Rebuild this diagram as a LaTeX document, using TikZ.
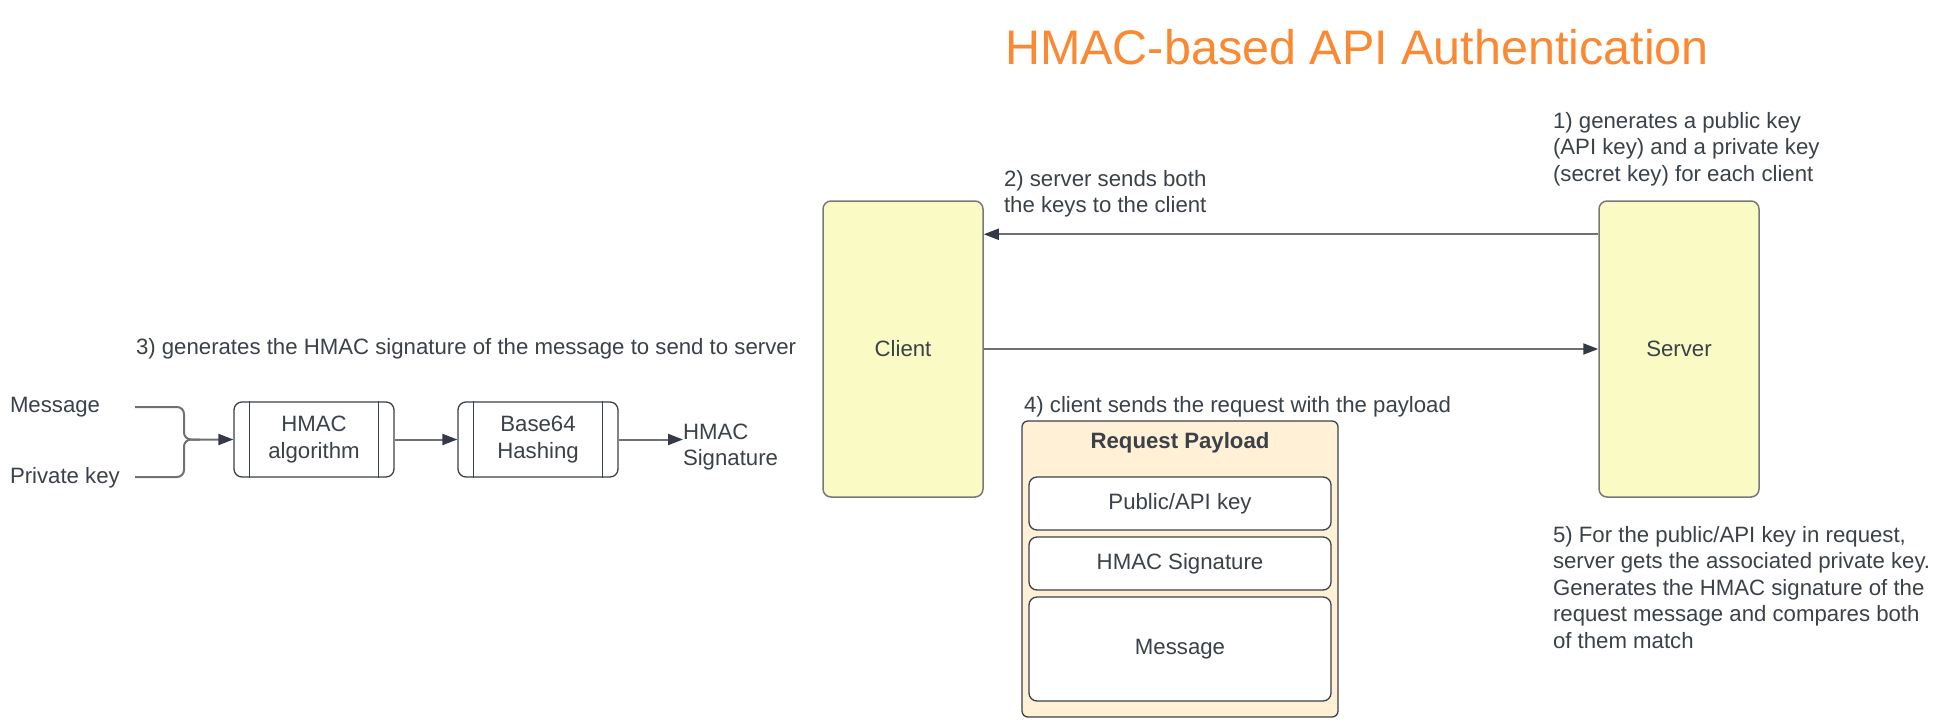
\documentclass[tikz,border=0pt]{standalone}
\usepackage{fontspec}
\setmainfont{Liberation Sans}
\usetikzlibrary{arrows.meta}
\definecolor{textc}{RGB}{58,65,74}
\definecolor{linec}{RGB}{112,112,112}
\definecolor{tipc}{RGB}{51,58,69}
\definecolor{bordc}{RGB}{120,120,120}
\definecolor{yellowc}{RGB}{250,250,196}
\definecolor{payc}{RGB}{255,240,214}
\definecolor{titlec}{RGB}{250,137,52}
\begin{document}
\begin{tikzpicture}[x=1pt,y=-1pt,
  txt/.style={inner sep=0pt, outer sep=0pt, text=textc, font=\fontsize{22.2}{26.5}\selectfont, align=left, anchor=base west},
  procbox/.style={draw=textc, line width=1.3pt, rounded corners=8pt, minimum width=160pt, minimum height=75pt, inner sep=0pt, text=textc, font=\fontsize{22.2}{26.5}\selectfont, align=center},
  actor/.style={draw=bordc, fill=yellowc, line width=1.5pt, rounded corners=8pt, minimum width=160pt, minimum height=296pt, text=textc, font=\fontsize{22.2}{26.5}\selectfont},
  field/.style={draw=textc, fill=white, line width=1.3pt, rounded corners=8pt, minimum width=302pt, inner sep=0pt, text=textc, font=\fontsize{22.2}{26.5}\selectfont},
  conn/.style={draw=linec, line width=2pt, -{Triangle[length=15pt,width=11pt,color=tipc]}},
  plain/.style={draw=linec, line width=2pt}
]
\useasboundingbox (0,0) rectangle (1940,726);

% title
\node[inner sep=0pt, anchor=base west, text=titlec, font=\fontsize{48.5}{56}\selectfont] (title) at (1005,64) {HMAC-based API Authentication};

% actors
\node[actor] (cli) at (903,349) {Client};
\node[actor] (srv) at (1679,349) {Server};

% annotations (anchored at the baseline of the last line)
\node[txt] (t1) at (1553,181) {1) generates a public key\\(API key) and a private key\\(secret key) for each client};
\node[txt] (t2) at (1004,212.5) {2) server sends both\\the keys to the client};
\node[txt] (t3) at (136,354) {3) generates the HMAC signature of the message to send to server};
\node[txt] (t4) at (1024,412) {4) client sends the request with the payload};
\node[txt] (t5) at (1553,648) {5) For the public/API key in request,\\server gets the associated private key.\\Generates the HMAC signature of the\\request message and compares both\\of them match};

% arrows between client and server
\draw[conn] ([yshift=-34pt]srv.north west) -- ([yshift=-34pt]cli.north east);
\draw[conn] (cli.east) -- (srv.west);

% HMAC pipeline
\node[txt] (msg) at (10,412) {Message};
\node[txt] (pk) at (10,483) {Private key};
\node[procbox] (h1) at (314,439.5) {HMAC\\algorithm};
\node[procbox] (h2) at (538,439.5) {Base64\\Hashing};
\draw[textc, line width=1.3pt] ([xshift=16pt]h1.north west) -- ([xshift=16pt]h1.south west);
\draw[textc, line width=1.3pt] ([xshift=-16pt]h1.north east) -- ([xshift=-16pt]h1.south east);
\draw[textc, line width=1.3pt] ([xshift=16pt]h2.north west) -- ([xshift=16pt]h2.south west);
\draw[textc, line width=1.3pt] ([xshift=-16pt]h2.north east) -- ([xshift=-16pt]h2.south east);
\node[txt] (sig) at (683,465.5) {HMAC\\Signature};

\coordinate (ma) at (135,407);
\coordinate (pa) at (135,477);
\coordinate (j) at (184,439.5);
\coordinate (j2) at (200,439.5);
\draw[plain, rounded corners=7pt] (pa) -| (j) -- (j2);
\draw[conn, rounded corners=7pt] (ma) -| (j) -- (h1.west);
\draw[conn] (h1.east) -- (h2.west);
\draw[conn] (h2.east) -- (sig.west |- h2.east);

% request payload
\node[draw=textc, fill=payc, line width=1.3pt, rounded corners=6pt, minimum width=316pt, minimum height=296pt] (pay) at (1180,569) {};
\node[inner sep=0pt, text=textc, font=\bfseries\fontsize{22.2}{26.5}\selectfont] (payt) at (1180,443) {Request Payload};
\node[field, minimum height=53pt] (f1) at (1180,503.5) {Public/API key};
\node[field, minimum height=53pt] (f2) at (1180,563.5) {HMAC Signature};
\node[field, minimum height=104pt] (f3) at (1180,649) {Message};
\end{tikzpicture}
\end{document}
